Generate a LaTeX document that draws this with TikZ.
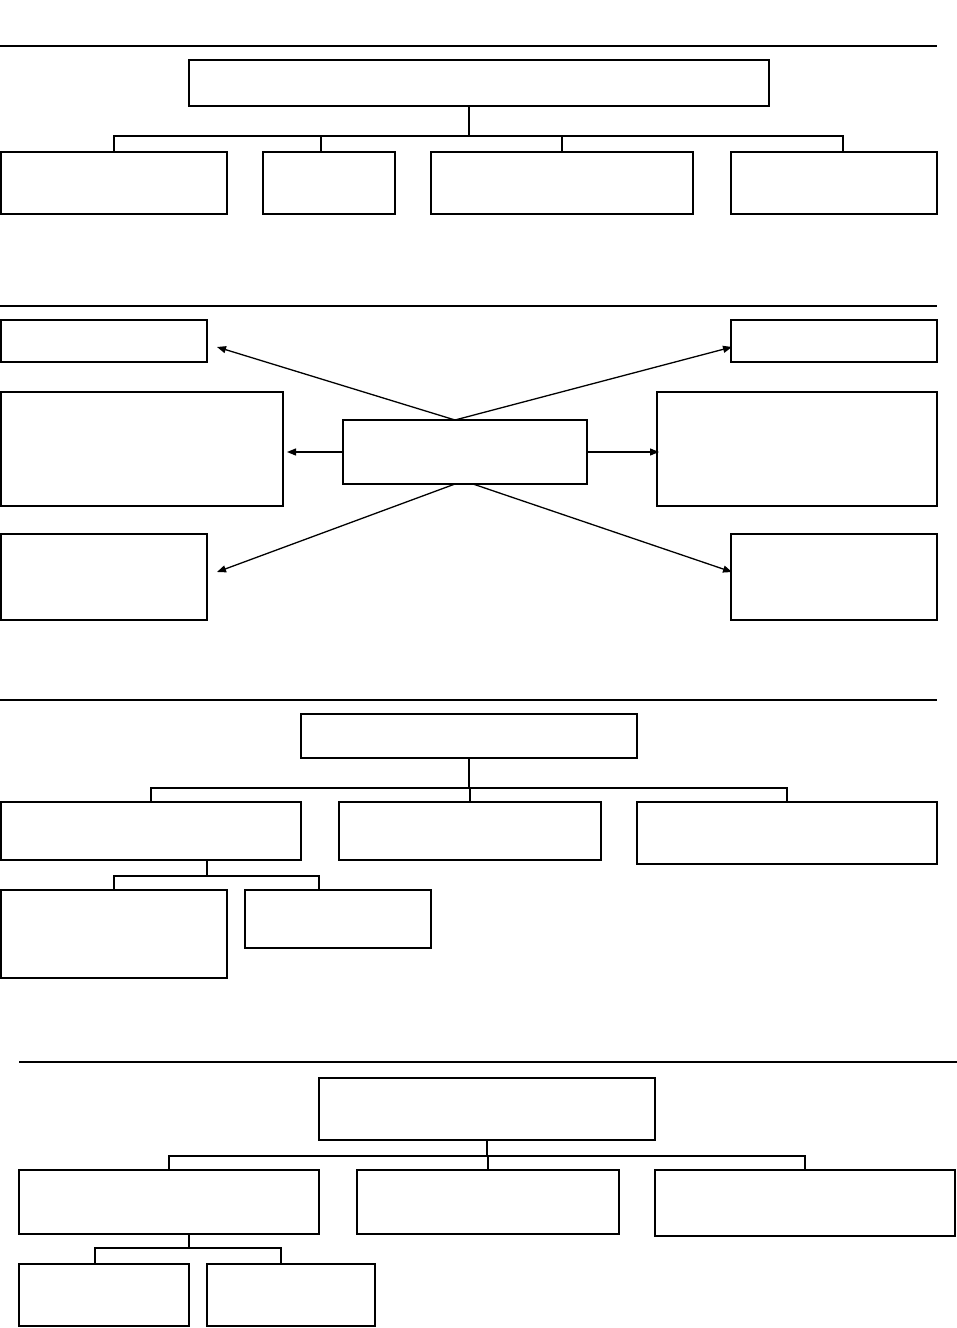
\documentclass[tikz,border=0pt]{standalone}
\usetikzlibrary{arrows.meta}
\tikzset{
  box/.style={draw, line width=1.6pt, inner sep=0pt, outer sep=0pt, anchor=north west},
  conn/.style={line width=1.3pt},
  rulebar/.style={line width=2pt},
  arr/.style={line width=1.3pt, -{Triangle[length=9pt,width=7pt]}}
}
\begin{document}
\begin{tikzpicture}[x=1pt,y=-1pt]
\useasboundingbox (0,0) rectangle (957,1328);
% ---------- Section 1 ----------
\draw[rulebar] (0,46) -- (937,46);
\node[box, minimum width=580pt, minimum height=46pt] (t1) at (189,60) {};
\node[box, minimum width=226pt, minimum height=62pt] (c11) at (1,152) {};
\node[box, minimum width=132pt, minimum height=62pt] (c12) at (263,152) {};
\node[box, minimum width=262pt, minimum height=62pt] (c13) at (431,152) {};
\node[box, minimum width=206pt, minimum height=62pt] (c14) at (731,152) {};
\coordinate (bus1) at (0,136);
\coordinate (p1) at ([xshift=-10pt]t1.south);
\coordinate (d11) at (c11.north);
\coordinate (d12) at ([xshift=-8pt]c12.north);
\coordinate (d13) at (c13.north);
\coordinate (d14) at ([xshift=9pt]c14.north);
\draw[conn] (p1) -- (p1 |- bus1);
\draw[conn] (d11) |- (d14 |- bus1) -- (d14);
\draw[conn] (d12) -- (d12 |- bus1);
\draw[conn] (d13) -- (d13 |- bus1);
% ---------- Section 2 ----------
\draw[rulebar] (0,306) -- (937,306);
\node[box, minimum width=206pt, minimum height=42pt] (atl) at (1,320) {};
\node[box, minimum width=206pt, minimum height=42pt] (atr) at (731,320) {};
\node[box, minimum width=282pt, minimum height=114pt] (aml) at (1,392) {};
\node[box, minimum width=280pt, minimum height=114pt] (amr) at (657,392) {};
\node[box, minimum width=244pt, minimum height=64pt] (ac) at (343,420) {};
\node[box, minimum width=206pt, minimum height=86pt] (abl) at (1,534) {};
\node[box, minimum width=206pt, minimum height=86pt] (abr) at (731,534) {};
\draw[arr] ([xshift=-10pt]ac.north) -- ([xshift=10pt,yshift=-6pt]atl.east);
\draw[arr] ([xshift=-10pt]ac.north) -- ([xshift=1pt,yshift=-6pt]atr.west);
\draw[arr] (ac.west) -- ([xshift=4pt]ac.west -| aml.east);
\draw[arr] (ac.east) -- ([xshift=2pt]ac.east -| amr.west);
\draw[arr] ([xshift=-10pt]ac.south) -- ([xshift=10pt,yshift=5pt]abl.east);
\draw[arr] ([xshift=8pt]ac.south) -- ([xshift=1pt,yshift=5pt]abr.west);
% ---------- Section 3 ----------
\draw[rulebar] (0,700) -- (937,700);
\node[box, minimum width=336pt, minimum height=44pt] (t3) at (301,714) {};
\node[box, minimum width=300pt, minimum height=58pt] (c31) at (1,802) {};
\node[box, minimum width=262pt, minimum height=58pt] (c32) at (339,802) {};
\node[box, minimum width=300pt, minimum height=62pt] (c33) at (637,802) {};
\node[box, minimum width=226pt, minimum height=88pt] (s31) at (1,890) {};
\node[box, minimum width=186pt, minimum height=58pt] (s32) at (245,890) {};
\coordinate (bus3) at (0,788);
\coordinate (sbus3) at (0,876);
\draw[conn] (t3.south) -- (t3.south |- bus3);
\draw[conn] (c31.north) |- (c33.north |- bus3) -- (c33.north);
\draw[conn] (c32.north) -- (c32.north |- bus3);
\coordinate (p3) at ([xshift=56pt]c31.south);
\coordinate (e32) at ([xshift=-19pt]s32.north);
\draw[conn] (p3) -- (p3 |- sbus3);
\draw[conn] (s31.north) |- (e32 |- sbus3) -- (e32);
% ---------- Section 4 ----------
\draw[rulebar] (19,1062) -- (957,1062);
\node[box, minimum width=336pt, minimum height=62pt] (t4) at (319,1078) {};
\node[box, minimum width=300pt, minimum height=64pt] (c41) at (19,1170) {};
\node[box, minimum width=262pt, minimum height=64pt] (c42) at (357,1170) {};
\node[box, minimum width=300pt, minimum height=66pt] (c43) at (655,1170) {};
\node[box, minimum width=170pt, minimum height=62pt] (s41) at (19,1264) {};
\node[box, minimum width=168pt, minimum height=62pt] (s42) at (207,1264) {};
\coordinate (bus4) at (0,1156);
\coordinate (sbus4) at (0,1248);
\draw[conn] (t4.south) -- (t4.south |- bus4);
\draw[conn] (c41.north) |- (c43.north |- bus4) -- (c43.north);
\draw[conn] (c42.north) -- (c42.north |- bus4);
\coordinate (p4) at ([xshift=20pt]c41.south);
\coordinate (e41) at ([xshift=-9pt]s41.north);
\coordinate (e42) at ([xshift=-10pt]s42.north);
\draw[conn] (p4) -- (p4 |- sbus4);
\draw[conn] (e41) |- (e42 |- sbus4) -- (e42);
\end{tikzpicture}
\end{document}
